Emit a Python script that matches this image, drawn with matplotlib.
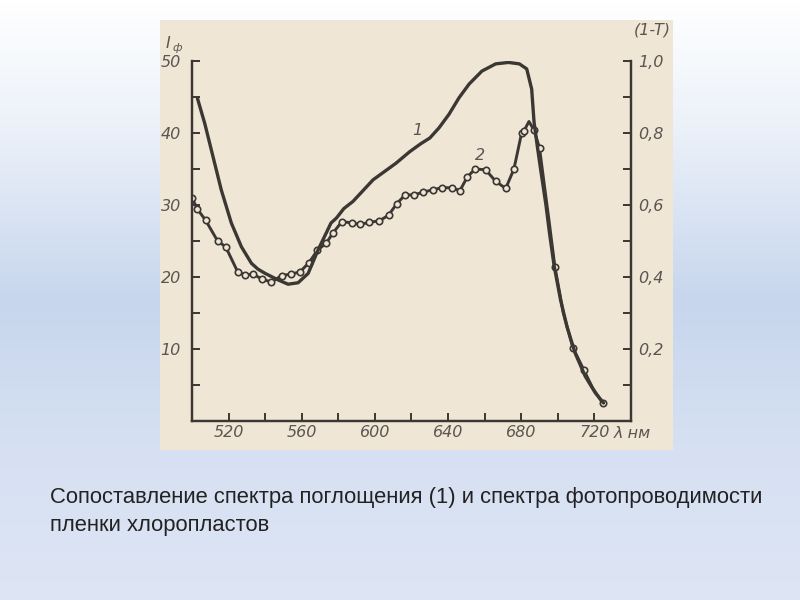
import matplotlib.pyplot as plt
import numpy as np
from matplotlib.patches import Rectangle
from matplotlib.ticker import MultipleLocator, FixedLocator, FuncFormatter

# curve 1: absorption spectrum, (1-T), right axis
abs_wl = [503, 507, 511.5, 516, 521.5, 527, 532.5, 536, 540, 547, 552.5, 558,
          563.5, 569, 576, 579, 583, 588, 599, 611.5, 619, 625, 630, 635,
          640.5, 646, 651.5, 658.5, 666, 673, 679, 683, 685.7, 687, 688.7,
          690.8, 693.5, 695.5, 698, 701.5, 705, 709.5, 715, 720.5, 725]
abs_val = [0.896, 0.826, 0.734, 0.642, 0.55, 0.484, 0.438, 0.422, 0.41, 0.392,
           0.38, 0.384, 0.41, 0.476, 0.55, 0.564, 0.59, 0.61, 0.67, 0.716,
           0.748, 0.77, 0.786, 0.814, 0.852, 0.898, 0.936, 0.972, 0.992, 0.996,
           0.992, 0.978, 0.922, 0.83, 0.766, 0.692, 0.6, 0.52, 0.43, 0.336,
           0.262, 0.188, 0.124, 0.078, 0.05]

# curve 2: photoconductivity I_ф, left axis
pc_wl = [500, 503, 507.4, 514, 518.4, 525, 529, 533.4, 538.3, 543.4, 549, 554,
         559, 564, 568.5, 573.4, 577, 582, 587.6, 592, 597, 602.5, 607.5, 612,
         616.5, 621.5, 626.5, 631.5, 636.5, 642, 646.5, 650.5, 654.8, 660.5,
         666, 671.5, 676, 680.2, 681.5, 684.2, 687, 690, 692.5, 695, 698.4,
         703, 708.2, 714.2, 719, 724.5]
pc_val = [31.0, 29.4, 27.9, 25.0, 24.2, 20.7, 20.3, 20.4, 19.7, 19.3, 20.2,
          20.4, 20.7, 22.0, 23.7, 24.7, 26.1, 27.7, 27.5, 27.3, 27.6, 27.8,
          28.6, 30.2, 31.4, 31.4, 31.8, 32.1, 32.4, 32.4, 32.0, 33.9, 35.0,
          34.9, 33.3, 32.3, 35.0, 40.0, 40.3, 41.6, 40.4, 37.9, 33.0, 28.2,
          21.4, 15.0, 10.2, 7.1, 4.6, 2.5]
pc_marked = [i for i in range(len(pc_wl)) if i not in (39, 42, 43, 45, 48)]

x_major = [520, 560, 600, 640, 680, 720]
left_major = [10, 20, 30, 40, 50]
right_major = [0.2, 0.4, 0.6, 0.8, 1.0]

ink = '#3b3733'
label_col = '#5b5651'
paper = '#efe6d6'

fig = plt.figure(figsize=(8, 6), dpi=100)

# slide background gradient + scanned paper
bg = fig.add_axes([0, 0, 1, 1], zorder=-1)
stops = np.array([0.0, 0.2, 0.5, 0.75, 1.0])
cols = np.array([[1.0, 1.0, 1.0], [0.93, 0.95, 0.98], [0.78, 0.84, 0.93],
                 [0.84, 0.88, 0.95], [0.87, 0.9, 0.96]])
t = np.linspace(0, 1, 300)
grad = np.stack([np.interp(t, stops, cols[:, k]) for k in range(3)], axis=1)
bg.imshow(grad[:, None, :], aspect='auto', extent=[0, 1, 0, 1])
bg.add_patch(Rectangle((160 / 800, 1 - 450 / 600), 513 / 800, 430 / 600,
                       facecolor=paper, edgecolor='none'))
bg.set_xlim(0, 1)
bg.set_ylim(0, 1)
bg.set_axis_off()

ax = fig.add_axes([192 / 800, 1 - 421 / 600, 439 / 800, 360 / 600])
ax.set_facecolor('none')
ax.set_xlim(500, 740)
ax.set_ylim(0, 50)
ax2 = ax.twinx()
ax2.set_ylim(0, 1.0)

ax2.plot(abs_wl, abs_val, color=ink, lw=2.4, solid_joinstyle='round',
         solid_capstyle='round', zorder=3)
ax.plot(pc_wl, pc_val, color=ink, lw=2.1, marker='o', ms=4.6, mfc=paper,
        mec=ink, mew=1.2, markevery=pc_marked, zorder=4)

for a in (ax, ax2):
    a.spines['top'].set_visible(False)
    for s in a.spines.values():
        s.set_color(ink)
        s.set_linewidth(1.6)

ax.xaxis.set_major_locator(FixedLocator(x_major))
ax.xaxis.set_minor_locator(MultipleLocator(20))
ax.yaxis.set_major_locator(FixedLocator(left_major))
ax.yaxis.set_minor_locator(MultipleLocator(5))
ax2.yaxis.set_major_locator(FixedLocator(right_major))
ax2.yaxis.set_minor_locator(MultipleLocator(0.1))
ax2.yaxis.set_major_formatter(FuncFormatter(lambda v, p: f'{v:.1f}'.replace('.', ',')))

lab_font = dict(fontsize=11.5, color=label_col, fontstyle='italic')
ax.tick_params(which='both', direction='in', color=ink, width=1.4, length=6,
               labelsize=11.5, labelcolor=label_col)
ax.tick_params(axis='x', pad=3)
ax.tick_params(axis='y', pad=8)
ax2.tick_params(which='both', direction='in', color=ink, width=1.4, length=6,
                labelsize=11.5, labelcolor=label_col, pad=5)
for lbl in ax.get_xticklabels() + ax.get_yticklabels() + ax2.get_yticklabels():
    lbl.set_fontstyle('italic')

# axis captions
fig.text(166 / 800, 1 - 44 / 600, 'I', ha='left', va='center', **lab_font)
fig.text(172 / 800, 1 - 48 / 600, 'ф', ha='left', va='center', fontsize=8,
         color=label_col, fontstyle='italic')
fig.text(652 / 800, 1 - 30 / 600, '(1-T)', ha='center', va='center', **lab_font)
fig.text(614 / 800, 1 - 433 / 600, 'λ нм', ha='left', va='center', **lab_font)

# curve numbers
ax.text(623, 40.3, '1', ha='center', va='center', **lab_font)
ax.text(657.5, 36.9, '2', ha='center', va='center', **lab_font)

fig.text(50 / 800, 1 - 498 / 600,
         'Сопоставление спектра поглощения (1) и спектра фотопроводимости',
         ha='left', va='center', fontsize=15.8, color='#222222',
         family='Liberation Sans')
fig.text(50 / 800, 1 - 525 / 600, 'пленки хлоропластов',
         ha='left', va='center', fontsize=15.8, color='#222222',
         family='Liberation Sans')

fig.savefig('out.png', dpi=100)
